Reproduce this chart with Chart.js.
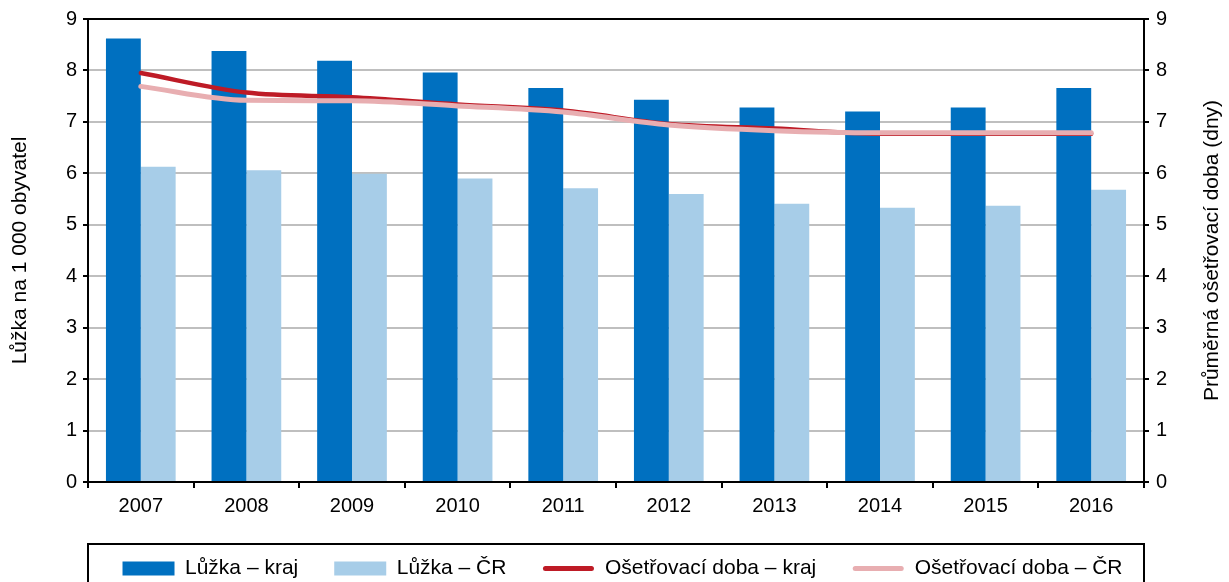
<!DOCTYPE html>
<html>
<head>
<meta charset="utf-8">
<script src="https://cdn.jsdelivr.net/npm/chart.js@4"></script>
<style>
html,body{margin:0;padding:0;background:#fff;}
#wrap{width:1229px;height:582px;}
</style>
</head>
<body>
<div id="wrap"><canvas id="c" width="1229" height="582"></canvas></div>
<script>
const years = ['2007','2008','2009','2010','2011','2012','2013','2014','2015','2016'];
const luzkaKraj = [8.62, 8.38, 8.19, 7.96, 7.66, 7.43, 7.28, 7.20, 7.28, 7.66];
const luzkaCR   = [6.13, 6.06, 5.99, 5.90, 5.71, 5.60, 5.41, 5.33, 5.37, 5.68];
const dobaKraj  = [7.95, 7.57, 7.48, 7.34, 7.22, 6.96, 6.87, 6.77, 6.77, 6.77];
const dobaCR    = [7.69, 7.42, 7.41, 7.31, 7.19, 6.94, 6.83, 6.79, 6.79, 6.79];
const seriesNames = ['Lůžka – kraj', 'Lůžka – ČR', 'Ošetřovací doba – kraj', 'Ošetřovací doba – ČR'];
const leftTitle = 'Lůžka na 1 000 obyvatel';
const rightTitle = 'Průměrná ošetřovací doba (dny)';

const FONT = 'Liberation Sans, Arial, sans-serif';
const C_DARK = '#0070C0', C_LIGHT = '#A7CDE8', C_RED = '#BE1B26', C_PINK = '#E8AEB1';

const extras = {
  id: 'extras',
  afterLayout(chart) {
    chart.legend.left += 8;
    chart.legend.right += 8;
  },
  afterDraw(chart) {
    const ctx = chart.ctx;
    const ca = chart.chartArea;
    ctx.save();
    ctx.strokeStyle = '#000';
    ctx.lineWidth = 2;
    ctx.strokeRect(ca.left, 544, ca.right - ca.left, 60);
    const hb = chart.legend.legendHitBoxes;
    const items = chart.legend.legendItems;
    items.forEach((it, i) => {
      if (it.datasetIndex < 2) return;
      const b = hb[i];
      const y = b.top + b.height / 2;
      ctx.strokeStyle = it.datasetIndex === 2 ? C_RED : C_PINK;
      ctx.lineWidth = 5;
      ctx.lineCap = 'round';
      ctx.beginPath();
      ctx.moveTo(b.left + 3, y);
      ctx.lineTo(b.left + 49, y);
      ctx.stroke();
    });
    ctx.fillStyle = '#000';
    ctx.font = '21px ' + FONT;
    ctx.textAlign = 'center';
    ctx.textBaseline = 'middle';
    ctx.translate(1212, (ca.top + ca.bottom) / 2);
    ctx.rotate(-Math.PI / 2);
    ctx.fillText(rightTitle, 0, 0);
    ctx.restore();
  }
};

new Chart(document.getElementById('c'), {
  type: 'bar',
  data: {
    labels: years,
    datasets: [
      { type: 'bar', label: seriesNames[0], data: luzkaKraj, backgroundColor: C_DARK, yAxisID: 'y', order: 3,
        categoryPercentage: 0.66, barPercentage: 1.0 },
      { type: 'bar', label: seriesNames[1], data: luzkaCR, backgroundColor: C_LIGHT, yAxisID: 'y', order: 3,
        categoryPercentage: 0.66, barPercentage: 1.0 },
      { type: 'line', label: seriesNames[2], data: dobaKraj, borderColor: C_RED, backgroundColor: C_RED, borderWidth: 4.5,
        pointRadius: 0, cubicInterpolationMode: 'monotone', borderCapStyle: 'round', yAxisID: 'y2', order: 2 },
      { type: 'line', label: seriesNames[3], data: dobaCR, borderColor: C_PINK, backgroundColor: C_PINK, borderWidth: 5,
        pointRadius: 0, cubicInterpolationMode: 'monotone', borderCapStyle: 'round', yAxisID: 'y2', order: 1 }
    ]
  },
  options: {
    responsive: false,
    animation: false,
    layout: { padding: { top: 17, left: 0, right: 0, bottom: -7 } },
    plugins: {
      tooltip: { enabled: false },
      legend: {
        position: 'bottom',
        labels: {
          font: { family: FONT, size: 21 },
          color: '#000',
          boxWidth: 52,
          boxHeight: 14,
          padding: 36,
          sort: (a, b) => a.datasetIndex - b.datasetIndex,
          generateLabels(chart) {
            const items = Chart.defaults.plugins.legend.labels.generateLabels(chart);
            items.forEach((it) => {
              it.lineWidth = 0;
              it.strokeStyle = 'rgba(0,0,0,0)';
              if (it.datasetIndex >= 2) it.fillStyle = 'rgba(0,0,0,0)';
            });
            return items;
          }
        }
      }
    },
    scales: {
      x: {
        offset: true,
        afterFit(s) { s.height = 40; },
        ticks: { font: { family: FONT, size: 20 }, color: '#000', padding: 6, maxRotation: 0 },
        grid: { display: true, drawOnChartArea: false, drawTicks: true, tickLength: 6, tickColor: '#000', lineWidth: 2, offset: true },
        border: { color: '#000', width: 2 }
      },
      y: {
        position: 'left',
        min: 0, max: 9,
        afterFit(s) { s.width = 88; },
        ticks: { stepSize: 1, font: { family: FONT, size: 20 }, color: '#000', padding: 6 },
        grid: {
          color: (c) => (c.tick && c.tick.value === 9) ? '#000' : '#BFBFBF',
          lineWidth: 2, tickLength: 5, tickColor: '#000'
        },
        border: { color: '#000', width: 2 },
        title: { display: true, text: leftTitle, font: { family: FONT, size: 21 }, color: '#000', padding: { top: 8, bottom: 0 } }
      },
      y2: {
        position: 'right',
        min: 0, max: 9,
        afterFit(s) { s.width = 85; },
        ticks: { stepSize: 1, font: { family: FONT, size: 20 }, color: '#000', padding: 7 },
        grid: { drawOnChartArea: false, lineWidth: 2, tickLength: 5, tickColor: '#000' },
        border: { color: '#000', width: 2 }
      }
    }
  },
  plugins: [extras]
});
</script>
</body>
</html>
